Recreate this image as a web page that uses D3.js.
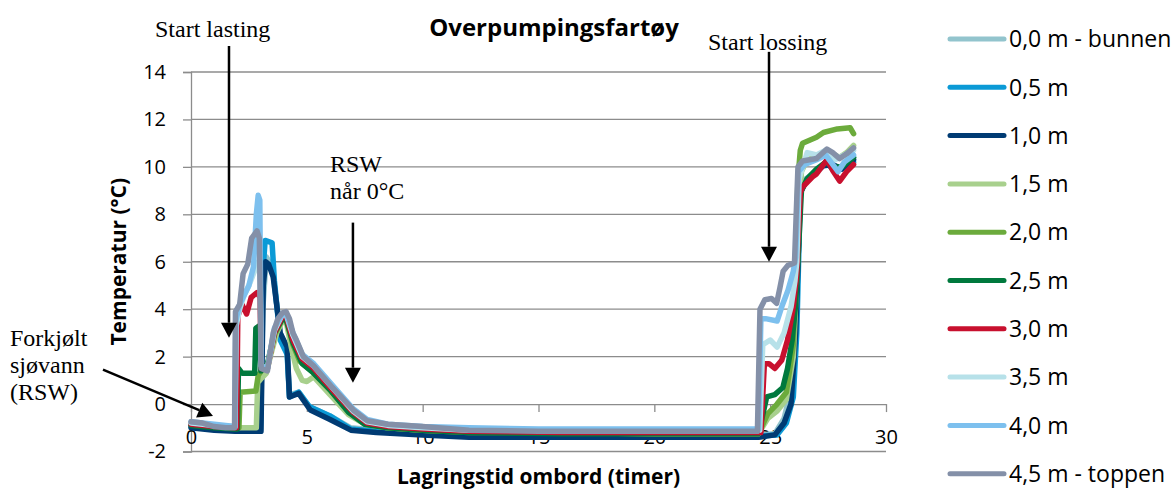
<!DOCTYPE html>
<html>
<head>
<meta charset="utf-8">
<script src="https://cdn.jsdelivr.net/npm/d3@7"></script>
<style>
  html, body { margin: 0; padding: 0; background: #fff; }
  svg { display: block; }
</style>
</head>
<body>
<svg id="chart" width="1176" height="492"></svg>
<script>
// Storage time on board (hours) vs. temperature (°C), one series per depth in the tank.
const depthLabels = ["0,0 m - bunnen", "0,5 m", "1,0 m", "1,5 m", "2,0 m", "2,5 m", "3,0 m", "3,5 m", "4,0 m", "4,5 m - toppen"];
const depthColors = ["#92c4cd", "#0b9ad6", "#003b73", "#a8d08d", "#6cab3c", "#00793d", "#c8102e", "#b7e1e9", "#7dc0ee", "#8490a8"];

const hourTicks = [0, 5, 10, 15, 20, 25, 30];
const tempTicks = [-2, 0, 2, 4, 6, 8, 10, 12, 14];

// [hour, temperature] readings per depth
const series00 = [[0,-0.9],[1,-1.0],[1.9,-1.05],[3.0,-1.05],[3.1,4.0],[3.25,6.2],[3.5,5.8],[3.85,3.0],[4.15,2.2],[4.25,0.4],[4.65,0.5],[5.1,-0.1],[6.0,-0.5],[6.9,-1.0],[8,-1.1],[10,-1.2],[12,-1.3],[16,-1.3],[20,-1.3],[24.5,-1.3],[25.2,-1.25],[25.6,-0.6],[25.9,0.6],[26.1,3.5],[26.25,8.8],[26.4,9.4],[27,9.8],[27.4,10.15],[27.8,9.9],[28.1,10.0],[28.6,10.4]];
const series05 = [[0,-0.95],[1,-1.05],[1.9,-1.1],[3.0,-1.1],[3.1,5.5],[3.2,6.9],[3.5,6.8],[3.6,5.2],[3.85,2.7],[4.15,2.1],[4.25,0.3],[4.65,0.5],[5.1,-0.1],[6.0,-0.5],[6.9,-1.05],[8,-1.15],[10,-1.25],[12,-1.3],[16,-1.35],[20,-1.35],[24.5,-1.35],[25.3,-1.3],[25.7,-0.8],[26.0,0.3],[26.15,3.0],[26.3,8.9],[26.5,9.4],[27,9.8],[27.4,10.2],[27.8,9.8],[28.1,10.0],[28.6,10.2]];
const series10 = [[0,-1.0],[1,-1.1],[1.9,-1.15],[3.02,-1.15],[3.12,5.0],[3.22,6.0],[3.35,5.9],[3.55,5.35],[3.85,3.0],[4.15,2.4],[4.25,0.3],[4.65,0.45],[5.15,-0.25],[6.0,-0.65],[6.9,-1.1],[8,-1.2],[10,-1.3],[12,-1.4],[16,-1.4],[20,-1.4],[24.5,-1.4],[25.2,-1.3],[25.6,-0.8],[25.9,0.0],[26.1,3.0],[26.3,8.9],[26.5,9.3],[27,9.8],[27.3,10.05],[27.7,10.1],[28.1,9.9],[28.6,10.3]];
const series15 = [[0,-0.85],[1,-0.95],[1.9,-1.0],[2.82,-1.0],[2.88,0.9],[3.05,1.1],[3.25,1.3],[3.45,2.1],[3.7,3.0],[3.95,3.5],[4.1,3.5],[4.35,2.3],[4.55,1.5],[4.8,1.0],[5.0,0.95],[5.3,1.15],[6.0,0.4],[6.8,-0.45],[7.5,-0.85],[8.5,-1.0],[10,-1.1],[12,-1.15],[16,-1.2],[20,-1.25],[24.5,-1.25],[24.9,-0.6],[25.3,-0.3],[25.7,0.2],[26.0,2.0],[26.2,6.5],[26.35,9.8],[26.6,10.3],[27.2,10.5],[27.6,10.6],[28.0,10.4],[28.3,10.6],[28.6,10.9]];
const series20 = [[0,-0.85],[1,-0.95],[1.9,-1.0],[2.07,-1.0],[2.12,0.5],[2.8,0.55],[2.9,1.2],[3.1,1.5],[3.3,1.6],[3.6,2.9],[3.95,3.6],[4.1,3.6],[4.4,2.5],[4.7,1.8],[5.2,1.4],[6.0,0.6],[6.8,-0.3],[7.5,-0.85],[8.5,-1.0],[10,-1.1],[12,-1.2],[16,-1.2],[20,-1.25],[24.5,-1.25],[24.9,-0.4],[25.3,0.0],[25.7,0.5],[26.0,2.5],[26.2,9.5],[26.3,10.7],[26.4,11.0],[27.0,11.25],[27.3,11.45],[27.9,11.6],[28.45,11.65],[28.6,11.4]];
const series25 = [[0,-0.9],[1,-1.0],[1.9,-1.05],[2.0,-1.05],[2.05,1.5],[2.2,1.3],[2.75,1.3],[2.8,3.2],[2.95,3.3],[3.02,1.4],[3.3,1.7],[3.6,3.0],[3.95,3.6],[4.1,3.6],[4.4,2.6],[4.8,1.7],[5.3,1.3],[6.0,0.6],[6.8,-0.35],[7.5,-0.85],[8.5,-1.0],[10,-1.1],[12,-1.2],[16,-1.25],[20,-1.25],[24.5,-1.25],[24.85,0.3],[25.2,0.4],[25.55,0.7],[25.75,1.5],[25.95,2.7],[26.1,4.2],[26.2,6.1],[26.35,9.0],[26.6,9.5],[27,9.9],[27.4,10.2],[27.8,10.0],[28.1,10.0],[28.6,10.4]];
const series30 = [[0,-0.85],[1,-0.95],[1.9,-1.0],[1.97,-1.0],[2.02,3.7],[2.2,4.2],[2.4,3.8],[2.6,4.5],[2.85,4.7],[2.98,4.5],[3.04,1.5],[3.3,1.5],[3.6,3.0],[3.95,3.7],[4.1,3.75],[4.4,2.7],[4.8,1.9],[5.3,1.5],[6.1,0.6],[7.0,-0.35],[7.6,-0.8],[8.5,-0.95],[10,-1.05],[12,-1.15],[16,-1.2],[20,-1.2],[24.6,-1.2],[24.75,1.7],[24.95,1.7],[25.2,1.5],[25.5,1.85],[25.75,2.7],[26.0,4.1],[26.15,5.5],[26.2,6.9],[26.3,8.9],[26.4,9.15],[26.85,9.6],[27.0,9.7],[27.45,10.3],[27.7,9.85],[28.0,9.4],[28.3,9.8],[28.6,10.1]];
const series35 = [[0,-0.8],[1,-0.9],[1.9,-0.95],[1.95,3.3],[2.1,4.0],[2.3,4.6],[2.5,5.0],[2.7,5.5],[2.9,6.0],[2.98,5.6],[3.04,1.6],[3.3,1.5],[3.6,3.1],[3.95,3.8],[4.1,3.8],[4.4,2.9],[4.8,2.0],[5.3,1.6],[6.1,0.7],[7.0,-0.3],[7.6,-0.75],[8.5,-0.9],[10,-1.0],[12,-1.1],[16,-1.1],[20,-1.1],[24.55,-1.1],[24.68,2.5],[25.0,2.7],[25.3,2.4],[25.6,3.0],[25.9,4.1],[26.07,5.2],[26.15,6.0],[26.25,9.5],[26.6,10.6],[27.0,10.5],[27.4,10.7],[27.8,10.3],[28.2,10.5],[28.6,10.7]];
const series40 = [[0,-0.75],[1,-0.85],[1.9,-0.95],[1.93,3.5],[2.1,4.2],[2.3,4.6],[2.5,5.0],[2.7,5.8],[2.82,8.0],[2.9,8.8],[2.97,8.6],[3.03,1.6],[3.3,1.5],[3.6,3.2],[3.95,3.8],[4.1,3.85],[4.4,3.0],[4.8,2.1],[5.3,1.7],[6.1,0.8],[7.0,-0.2],[7.6,-0.65],[8.5,-0.85],[10,-0.95],[12,-1.0],[15,-1.05],[20,-1.05],[24.5,-1.05],[24.6,3.6],[24.8,3.6],[25.3,3.5],[25.5,4.1],[25.77,4.8],[26.0,5.6],[26.1,6.2],[26.22,9.8],[26.5,10.1],[27.0,10.3],[27.4,10.5],[27.93,9.8],[28.2,10.2],[28.6,10.5]];
const series45 = [[0,-0.75],[0.5,-0.8],[1,-0.95],[1.5,-1.0],[1.88,-1.0],[1.92,3.9],[2.1,4.2],[2.25,5.5],[2.45,5.9],[2.62,7.0],[2.85,7.3],[2.95,7.0],[3.03,1.5],[3.3,1.4],[3.55,3.0],[3.75,3.6],[3.95,3.85],[4.1,3.9],[4.25,3.6],[4.4,3.0],[4.55,2.7],[4.85,2.0],[5.3,1.6],[6.1,0.7],[7.0,-0.25],[7.6,-0.7],[8.5,-0.85],[10,-0.95],[12,-1.1],[15,-1.15],[20,-1.15],[24.45,-1.15],[24.56,4.0],[24.77,4.4],[25.06,4.45],[25.28,4.25],[25.42,4.9],[25.56,5.6],[25.77,5.85],[26.05,5.95],[26.12,7.9],[26.2,10.0],[26.4,10.25],[27.0,10.35],[27.45,10.75],[27.7,10.6],[28.0,10.35],[28.3,10.55],[28.6,10.8]];

const allSeries = [series00, series05, series10, series15, series20, series25, series30, series35, series40, series45];

// Annotation texts with the point each arrow starts from and points at (hour, °C)
const annotations = [
  { lines: ["Start lasting"], textX: 155, textY: 37, from: [1.64, 15.1], to: [1.64, 2.8] },
  { lines: ["Start lossing"], textX: 708, textY: 50, from: [24.95, 14.85], to: [24.95, 6.0] },
  { lines: ["RSW", "når 0°C"], textX: 330, textY: 172, from: [6.99, 7.65], to: [6.99, 0.9] },
  { lines: ["Forkjølt", "sjøvann", "(RSW)"], textX: 10, textY: 346, from: [-3.8, 1.45], to: [0.95, -0.5] }
];

const svg = d3.select("#chart");
const sans = "'Open Sans', 'Noto Sans', sans-serif";
const serif = "'Liberation Serif', 'DejaVu Serif', serif";

svg.append("rect").attr("width", 1176).attr("height", 492).attr("fill", "#fff");

const x = d3.scaleLinear().domain([0, 30]).range([191, 886]);
const y = d3.scaleLinear().domain([-2, 14]).range([451.5, 72]);

// horizontal gridlines
svg.append("g")
  .selectAll("line")
  .data(tempTicks.filter(t => t !== 0))
  .join("line")
  .attr("x1", x(0)).attr("x2", x(30))
  .attr("y1", d => y(d)).attr("y2", d => y(d))
  .attr("stroke", "#8c8c8c").attr("stroke-width", 1.3);

// value axis
const yAxis = svg.append("g")
  .attr("transform", `translate(${x(0)},0)`)
  .call(d3.axisLeft(y).tickValues(tempTicks).tickSize(8).tickPadding(17).tickFormat(d3.format("d")));
yAxis.select(".domain").attr("stroke", "#8c8c8c").attr("stroke-width", 1.3);
yAxis.selectAll(".tick line").attr("stroke", "#8c8c8c").attr("stroke-width", 1.3);
yAxis.selectAll(".tick text")
  .attr("font-family", sans).attr("font-size", 20).attr("fill", "#000")
  .text(d => d < 0 ? "-" + Math.abs(d) : d);

// time axis crossing at 0 °C
const xAxis = svg.append("g")
  .attr("transform", `translate(0,${y(0)})`)
  .call(d3.axisBottom(x).tickValues(hourTicks).tickSize(8).tickPadding(18).tickSizeOuter(0));
xAxis.select(".domain").attr("stroke", "#8c8c8c").attr("stroke-width", 1.3);
xAxis.selectAll(".tick line").attr("stroke", "#8c8c8c").attr("stroke-width", 1.3);
xAxis.selectAll(".tick text")
  .attr("font-family", sans).attr("font-size", 20).attr("fill", "#000");

// temperature lines
const line = d3.line().x(d => x(d[0])).y(d => y(d[1]));
svg.append("g")
  .selectAll("path")
  .data(allSeries)
  .join("path")
  .attr("d", line)
  .attr("fill", "none")
  .attr("stroke", (d, i) => depthColors[i])
  .attr("stroke-width", 5.5)
  .attr("stroke-linejoin", "round")
  .attr("stroke-linecap", "round");

// titles
svg.append("text")
  .attr("x", 554).attr("y", 36)
  .attr("text-anchor", "middle")
  .attr("font-family", sans).attr("font-weight", "bold").attr("font-size", 24)
  .text("Overpumpingsfartøy");

svg.append("text")
  .attr("x", (x(0) + x(30)) / 2).attr("y", 484)
  .attr("text-anchor", "middle")
  .attr("font-family", sans).attr("font-weight", "bold").attr("font-size", 21)
  .text("Lagringstid ombord (timer)");

svg.append("text")
  .attr("transform", `translate(126,${(y(-2) + y(14)) / 2}) rotate(-90)`)
  .attr("text-anchor", "middle")
  .attr("font-family", sans).attr("font-weight", "bold").attr("font-size", 21)
  .text("Temperatur (°C)");

// legend
const legend = svg.append("g");
depthLabels.forEach((label, i) => {
  const ly = 39 + i * 48.3;
  legend.append("line")
    .attr("x1", 950).attr("x2", 1004).attr("y1", ly).attr("y2", ly)
    .attr("stroke", depthColors[i]).attr("stroke-width", 5).attr("stroke-linecap", "round");
  legend.append("text")
    .attr("x", 1009).attr("y", ly).attr("dy", "0.36em")
    .attr("font-family", sans).attr("font-size", 23).attr("fill", "#000")
    .text(label);
});

// annotations with arrows
const notes = svg.append("g");
annotations.forEach(a => {
  const t = notes.append("text")
    .attr("font-family", serif).attr("font-size", 24).attr("fill", "#000");
  a.lines.forEach((s, k) => {
    t.append("tspan").attr("x", a.textX).attr("y", a.textY + k * 27).text(s);
  });
  const x1 = x(a.from[0]), y1 = y(a.from[1]);
  const x2 = x(a.to[0]), y2 = y(a.to[1]);
  const ang = Math.atan2(y2 - y1, x2 - x1);
  const headLen = 15, headHalf = 8;
  const bx = x2 - headLen * Math.cos(ang), by = y2 - headLen * Math.sin(ang);
  notes.append("line")
    .attr("x1", x1).attr("y1", y1).attr("x2", bx).attr("y2", by)
    .attr("stroke", "#000").attr("stroke-width", 2.5);
  const px = -Math.sin(ang), py = Math.cos(ang);
  notes.append("path")
    .attr("d", `M${x2},${y2}L${bx + px * headHalf},${by + py * headHalf}L${bx - px * headHalf},${by - py * headHalf}Z`)
    .attr("fill", "#000");
});
</script>
</body>
</html>
